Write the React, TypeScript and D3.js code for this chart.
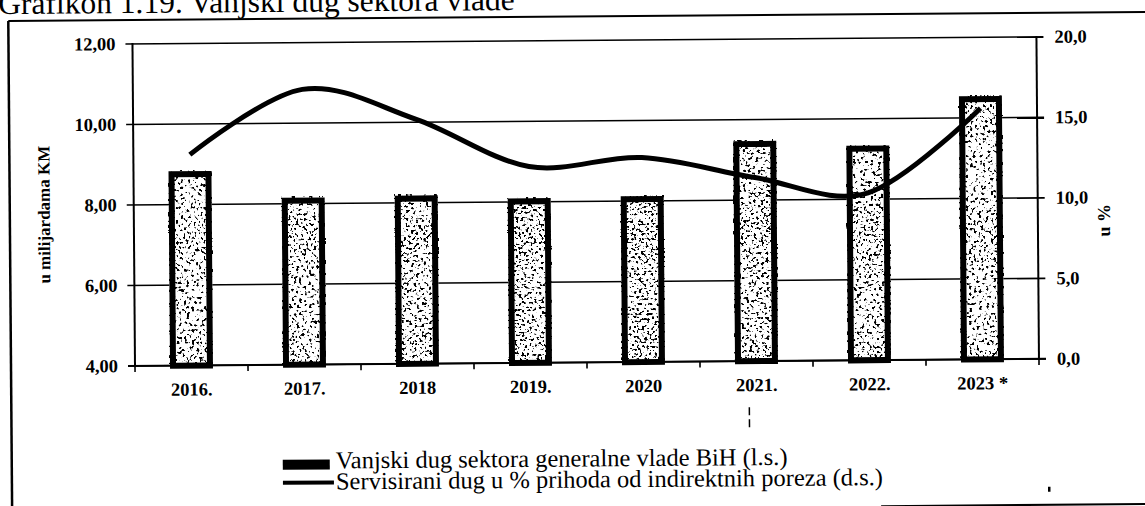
import React from 'react'
import * as d3 from 'd3'

// values
const years = ['2016.', '2017.', '2018', '2019.', '2020', '2021.', '2022.', '2023 *']
const externalDebt = [8.83, 8.15, 8.18, 8.09, 8.12, 9.47, 9.33, 10.54] // mlrd KM, left axis
const servicedDebt = [13.1, 17.1, 15.2, 12.2, 12.7, 11.4, 10.4, 15.6] // %, right axis
const leftTicks = [4, 6, 8, 10, 12]
const rightTicks = [0, 5, 10, 15, 20]

const W = 1145
const H = 506
const serif = '"Liberation Serif", "Times New Roman", serif'

const left = 135, right = 1039, top = 44, bottom = 366

export default function App() {
  const x = d3.scaleBand<string>()
    .domain(years)
    .range([left, right])
    .paddingInner(0.62)
    .paddingOuter(0.31)
  const bw = x.bandwidth()
  const step = x.step()

  const yL = d3.scaleLinear().domain([4, 12]).range([bottom, top])
  const yR = d3.scaleLinear().domain([0, 20]).range([bottom, top])

  const line = d3.line<number>()
    .x((d, i) => (x(years[i]) as number) + bw / 2)
    .y(d => yR(d))
    .curve(d3.curveCardinal.tension(0))

  const fmtL = (v: number) => d3.format('.2f')(v).replace('.', ',')
  const fmtR = (v: number) => d3.format('.1f')(v).replace('.', ',')

  const boundaries = d3.range(years.length + 1).map(i => left + i * step)
  const border = 6

  return (
    <svg width={W} height={H} style={{ position: 'absolute', left: 0, top: 0, background: '#fff' }}>
      <defs>
        <filter id="speckle" x="0" y="0" width="1" height="1">
          <feTurbulence type="fractalNoise" baseFrequency="0.4" numOctaves="2" seed="7" result="n" />
          <feColorMatrix in="n" type="matrix"
            values="0 0 0 0 0  0 0 0 0 0  0 0 0 0 0  16 0 0 0 -8.9" />
        </filter>
      </defs>
      <g transform={`rotate(-0.45, ${left}, ${bottom})`}>
        {/* title + frame */}
        <text x={1} y={13} fontFamily={serif} fontSize={31.5} fill="#000">Grafikon 1.19. Vanjski dug sektora vlade</text>
        <line x1={11} x2={1160} y1={20} y2={20} stroke="#000" strokeWidth={2} />
        <line x1={11} x2={11} y1={20} y2={520} stroke="#000" strokeWidth={2.5} />
        <line x1={880} x2={1160} y1={512} y2={512} stroke="#000" strokeWidth={2} />

        {/* gridlines */}
        {leftTicks.map(t => (
          <line key={'g' + t} x1={left - 7} x2={right + 7} y1={yL(t)} y2={yL(t)} stroke="#000" strokeWidth={1.6} />
        ))}

        {/* bars */}
        {years.map((yr, i) => {
          const x0 = x(yr) as number
          const y0 = yL(externalDebt[i])
          return (
            <g key={yr}>
              <rect x={x0} y={y0} width={bw} height={bottom - y0} fill="#fff" />
              <rect x={x0} y={y0} width={bw} height={bottom - y0} fill="#000" filter="url(#speckle)" />
              <rect x={x0 + border / 2} y={y0 + border / 2} width={bw - border} height={bottom - y0 - border / 2}
                fill="none" stroke="#000" strokeWidth={border} />
            </g>
          )
        })}

        {/* axes */}
        <line x1={left} x2={left} y1={top - 1} y2={bottom + 1} stroke="#000" strokeWidth={2} />
        <line x1={right} x2={right} y1={top - 1} y2={bottom + 1} stroke="#000" strokeWidth={2} />
        <line x1={left - 7} x2={right + 7} y1={bottom} y2={bottom} stroke="#000" strokeWidth={2} />
        {boundaries.map((b, i) => (
          <line key={'t' + i} x1={b} x2={b} y1={bottom} y2={bottom + 6} stroke="#000" strokeWidth={1.6} />
        ))}

        {/* line series */}
        <path d={line(servicedDebt) as string} fill="none" stroke="#000" strokeWidth={5} />

        {/* tick labels */}
        {leftTicks.map(t => (
          <text key={'l' + t} x={118} y={yL(t) + 6} textAnchor="end" fontFamily={serif} fontWeight="bold" fontSize={18.5}>{fmtL(t)}</text>
        ))}
        {rightTicks.map(t => (
          <text key={'r' + t} x={1057} y={yR(t) + 6} textAnchor="start" fontFamily={serif} fontWeight="bold" fontSize={18.5}>{fmtR(t)}</text>
        ))}
        {years.map(yr => (
          <text key={'x' + yr} x={(x(yr) as number) + bw / 2} y={396} textAnchor="middle" fontFamily={serif} fontWeight="bold" fontSize={18.5}>{yr}</text>
        ))}

        {/* axis titles */}
        <text transform={`translate(51, 214) rotate(-90)`} textAnchor="middle" fontFamily={serif} fontWeight="bold" fontSize={17}>u milijardama KM</text>
        <text transform={`translate(1111, 228) rotate(-90)`} textAnchor="middle" fontFamily={serif} fontWeight="bold" fontSize={18}>u %</text>

        {/* scan marks */}
        <line x1={749} x2={749} y1={412} y2={434} stroke="#000" strokeWidth={1.5} strokeDasharray="8,4" />
        <rect x={1047} y={494} width={2.5} height={5} fill="#000" />

        {/* legend */}
        <rect x={282} y={461} width={47} height={10} fill="#000" />
        <text x={335} y={470} fontFamily={serif} fontSize={24.5}>Vanjski dug sektora generalne vlade BiH (l.s.)</text>
        <line x1={282} x2={333} y1={484} y2={484} stroke="#000" strokeWidth={4} />
        <text x={335} y={491} fontFamily={serif} fontSize={24.5}>Servisirani dug u % prihoda od indirektnih poreza (d.s.)</text>
      </g>
    </svg>
  )
}
